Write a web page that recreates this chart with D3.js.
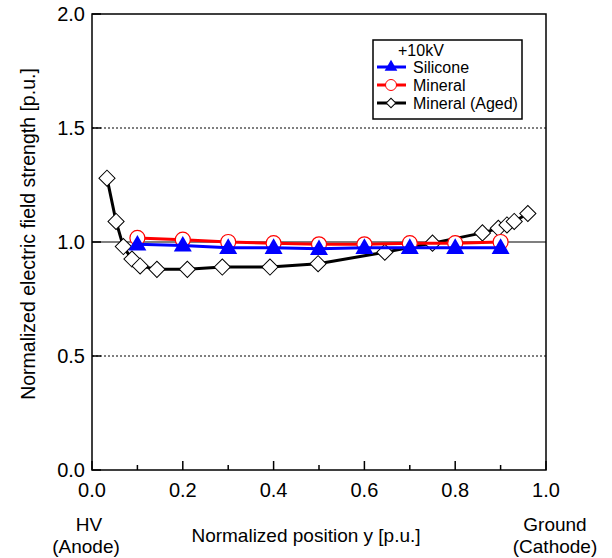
<!DOCTYPE html>
<html>
<head>
<meta charset="utf-8">
<script src="https://cdn.jsdelivr.net/npm/d3@7"></script>
<style>
  body { margin: 0; background: #fff; }
  text { font-family: "Liberation Sans", Arial, sans-serif; }
</style>
</head>
<body>
<div id="chart"></div>
<script>
// data
const siliconeX = [0.1, 0.2, 0.3, 0.4, 0.5, 0.6, 0.7, 0.8, 0.9];
const siliconeY = [0.99, 0.985, 0.975, 0.975, 0.97, 0.975, 0.975, 0.975, 0.975];
const mineralX = [0.1, 0.2, 0.3, 0.4, 0.5, 0.6, 0.7, 0.8, 0.9];
const mineralY = [1.018, 1.01, 1.0, 0.995, 0.99, 0.99, 0.995, 0.995, 1.0];
const agedX = [0.033, 0.053, 0.069, 0.088, 0.106, 0.143, 0.21, 0.287, 0.392, 0.498, 0.645, 0.75, 0.86, 0.895, 0.914, 0.93, 0.96];
const agedY = [1.28, 1.09, 0.98, 0.925, 0.895, 0.88, 0.88, 0.89, 0.89, 0.905, 0.955, 0.995, 1.04, 1.06, 1.075, 1.09, 1.125];
const xTicks = [0, 0.2, 0.4, 0.6, 0.8, 1.0];
const xMinor = [0.1, 0.3, 0.5, 0.7, 0.9];
const yTicks = [0, 0.5, 1.0, 1.5, 2.0];
const legendNames = ['Silicone', 'Mineral', 'Mineral (Aged)'];

const W = 612, H = 558;
const margin = {top: 14, right: 66, bottom: 88, left: 92};
const width = W - margin.left - margin.right;
const height = H - margin.top - margin.bottom;

const svg = d3.select('#chart').append('svg')
    .attr('width', W).attr('height', H);

const chart = svg.append('g')
    .attr('transform', `translate(${margin.left},${margin.top})`);

const x = d3.scaleLinear().domain([0, 1]).range([0, width]);
const y = d3.scaleLinear().domain([0, 2]).range([height, 0]);

// grid lines
chart.selectAll('.grid')
    .data([0.5, 1.0, 1.5])
    .join('line')
    .attr('x1', 0).attr('x2', width)
    .attr('y1', d => y(d)).attr('y2', d => y(d))
    .attr('stroke', '#000')
    .attr('stroke-width', d => d === 1 ? 1.2 : 1)
    .attr('stroke-dasharray', d => d === 1 ? null : '2,2');

// x ticks (inward)
chart.selectAll('.xmaj').data(xTicks).join('line')
    .attr('x1', d => x(d)).attr('x2', d => x(d))
    .attr('y1', height).attr('y2', height - 9)
    .attr('stroke', '#000').attr('stroke-width', 1.5);
chart.selectAll('.xmin').data(xMinor).join('line')
    .attr('x1', d => x(d)).attr('x2', d => x(d))
    .attr('y1', height).attr('y2', height - 5)
    .attr('stroke', '#000').attr('stroke-width', 1.5);
chart.selectAll('.ymaj').data(yTicks).join('line')
    .attr('x1', 0).attr('x2', 9)
    .attr('y1', d => y(d)).attr('y2', d => y(d))
    .attr('stroke', '#000').attr('stroke-width', 1.5);

// frame
chart.append('rect')
    .attr('width', width).attr('height', height)
    .attr('fill', 'none').attr('stroke', '#000').attr('stroke-width', 1.5);

// tick labels
chart.selectAll('.xlab').data(xTicks).join('text')
    .attr('x', d => x(d)).attr('y', height + 27)
    .attr('text-anchor', 'middle').attr('font-size', 20)
    .text(d => d.toFixed(1));
chart.selectAll('.ylab').data(yTicks).join('text')
    .attr('x', -7).attr('y', d => y(d) + 7)
    .attr('text-anchor', 'end').attr('font-size', 20)
    .text(d => d.toFixed(1));

// axis titles
svg.append('text')
    .attr('transform', `translate(35,${margin.top + height / 2 - 8}) rotate(-90)`)
    .attr('text-anchor', 'middle').attr('font-size', 19.5)
    .text('Normalized electric field strength [p.u.]');
svg.append('text')
    .attr('x', 306).attr('y', 542)
    .attr('text-anchor', 'middle').attr('font-size', 19)
    .text('Normalized position y [p.u.]');
svg.append('text').attr('x', 89).attr('y', 531)
    .attr('text-anchor', 'middle').attr('font-size', 19).text('HV');
svg.append('text').attr('x', 86).attr('y', 553)
    .attr('text-anchor', 'middle').attr('font-size', 19).text('(Anode)');
svg.append('text').attr('x', 555).attr('y', 531)
    .attr('text-anchor', 'middle').attr('font-size', 19).text('Ground');
svg.append('text').attr('x', 555).attr('y', 553)
    .attr('text-anchor', 'middle').attr('font-size', 19).text('(Cathode)');

const line = d3.line().x(d => x(d[0])).y(d => y(d[1]));
const aged = agedX.map((v, i) => [v, agedY[i]]);
const mineral = mineralX.map((v, i) => [v, mineralY[i]]);
const silicone = siliconeX.map((v, i) => [v, siliconeY[i]]);

const diamond = d3.symbol().type(d3.symbolSquare).size(130)();
const tri = d3.symbol().type(d3.symbolTriangle).size(140)();

// aged mineral
chart.append('path').datum(aged).attr('d', line)
    .attr('fill', 'none').attr('stroke', '#000').attr('stroke-width', 3);
chart.selectAll('.dia').data(aged).join('path')
    .attr('d', diamond)
    .attr('transform', d => `translate(${x(d[0])},${y(d[1])}) rotate(45)`)
    .attr('fill', '#fff').attr('stroke', '#000').attr('stroke-width', 1);

// mineral
chart.append('path').datum(mineral).attr('d', line)
    .attr('fill', 'none').attr('stroke', '#ff0000').attr('stroke-width', 3);
chart.selectAll('.circ').data(mineral).join('circle')
    .attr('cx', d => x(d[0])).attr('cy', d => y(d[1])).attr('r', 7.5)
    .attr('fill', '#fff').attr('stroke', '#ff0000').attr('stroke-width', 1.2);

// silicone
chart.append('path').datum(silicone).attr('d', line)
    .attr('fill', 'none').attr('stroke', '#0000ff').attr('stroke-width', 3);
chart.selectAll('.tri').data(silicone).join('path')
    .attr('d', tri)
    .attr('transform', d => `translate(${x(d[0])},${y(d[1]) + 1})`)
    .attr('fill', '#0000ff');

// legend
const lg = svg.append('g').attr('transform', 'translate(373,40)');
lg.append('rect').attr('width', 149).attr('height', 79)
    .attr('fill', '#fff').attr('stroke', '#000').attr('stroke-width', 1.5);
lg.append('text').attr('x', 25).attr('y', 16).attr('font-size', 16).text('+10kV');
const colors = ['#0000ff', '#ff0000', '#000'];
legendNames.forEach((name, i) => {
    const cy = 27 + i * 18;
    lg.append('line').attr('x1', 4).attr('x2', 33).attr('y1', cy).attr('y2', cy)
        .attr('stroke', colors[i]).attr('stroke-width', 3);
    if (i === 0) {
        lg.append('path').attr('d', d3.symbol().type(d3.symbolTriangle).size(70)())
            .attr('transform', `translate(18,${cy})`).attr('fill', colors[i]);
    } else if (i === 1) {
        lg.append('circle').attr('cx', 18).attr('cy', cy).attr('r', 5.5)
            .attr('fill', '#fff').attr('stroke', colors[i]).attr('stroke-width', 1);
    } else {
        lg.append('path').attr('d', d3.symbol().type(d3.symbolSquare).size(45)())
            .attr('transform', `translate(18,${cy}) rotate(45)`)
            .attr('fill', '#fff').attr('stroke', '#000').attr('stroke-width', 1);
    }
    lg.append('text').attr('x', 40).attr('y', cy + 6).attr('font-size', 16).text(name);
});
</script>
</body>
</html>
